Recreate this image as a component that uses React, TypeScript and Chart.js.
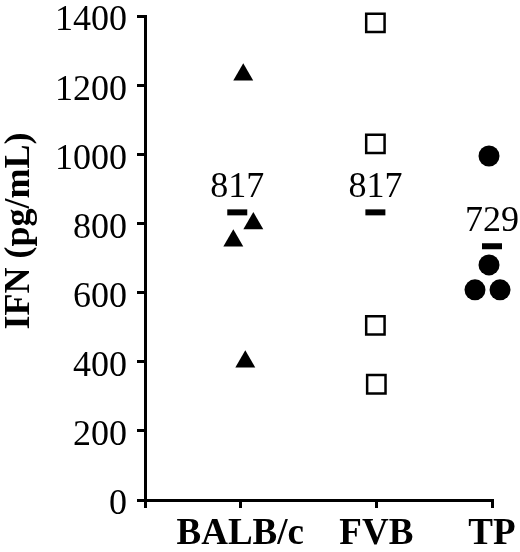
import React, { useEffect, useRef } from "react";
import { Chart, registerables } from "chart.js";

Chart.register(...registerables);

// ---- data ----
const categories = ["BALB/c", "FVB", "TP"];
const categoryPositions = [0.7, 1.7, 2.55];

const balbValues = [1230, 750, 800, 400];
const balbJitter = [0.022, -0.051, 0.096, 0.037];

const fvbValues = [1380, 1030, 505, 335];
const fvbJitter = [-0.007, -0.007, -0.007, 0.0];

const tpValues = [995, 680, 608, 608];
const tpJitter = [-0.022, -0.022, -0.125, 0.059];

const meanBarValues = [832, 832, 734];
const meanBarJitter = [-0.022, -0.007, 0.0];
const meanLabels = ["817", "817", "729"];

const yTicks = [0, 200, 400, 600, 800, 1000, 1200, 1400];
const yTitle = "IFN (pg/mL)";

const SERIF = "'Liberation Serif', 'Times New Roman', Times, serif";

function pts(catIndex: number, values: number[], jitter: number[]) {
  return values.map((v, i) => ({ x: categoryPositions[catIndex] + jitter[i], y: v }));
}

const annotationPlugin = {
  id: "annotations",
  afterDatasetsDraw(chart: any) {
    const { ctx, scales, chartArea } = chart;
    ctx.save();
    ctx.font = `36px ${SERIF}`;
    ctx.fillStyle = "#000";
    ctx.textAlign = "center";
    ctx.textBaseline = "middle";
    meanLabels.forEach((lab, i) => {
      const x = scales.x.getPixelForValue(categoryPositions[i] + meanBarJitter[i]);
      const y = scales.y.getPixelForValue(meanBarValues[i]) - 25;
      ctx.fillText(lab, x, y);
    });
    // y-axis title
    ctx.font = `bold 36px ${SERIF}`;
    ctx.translate(20, (chartArea.top + chartArea.bottom) / 2 - 27);
    ctx.rotate(-Math.PI / 2);
    ctx.fillText(yTitle, 0, 0);
    ctx.restore();
  },
};

export default function App() {
  const ref = useRef<HTMLCanvasElement | null>(null);
  useEffect(() => {
    if (!ref.current) return;
    const chart = new Chart(ref.current, {
      type: "scatter",
      data: {
        datasets: [
          {
            data: pts(0, balbValues, balbJitter),
            pointStyle: "triangle",
            pointRadius: 11.5,
            backgroundColor: "#000",
            borderColor: "#000",
            borderWidth: 0,
            clip: false,
          },
          {
            data: pts(1, fvbValues, fvbJitter),
            pointStyle: "rect",
            pointRadius: 13,
            backgroundColor: "#fff",
            borderColor: "#000",
            borderWidth: 2.5,
            clip: false,
          },
          {
            data: pts(2, tpValues, tpJitter),
            pointStyle: "circle",
            pointRadius: 10.5,
            backgroundColor: "#000",
            borderColor: "#000",
            borderWidth: 0,
            clip: false,
          },
          {
            data: meanBarValues.map((v, i) => ({ x: categoryPositions[i] + meanBarJitter[i], y: v })),
            pointStyle: "line",
            pointRadius: 10,
            borderColor: "#000",
            borderWidth: 6,
            clip: false,
          },
        ],
      },
      options: {
        responsive: false,
        animation: false,
        events: [],
        layout: { padding: { left: 45, right: 28, top: 11, bottom: 0 } },
        plugins: { legend: { display: false }, tooltip: { enabled: false } },
        scales: {
          x: {
            type: "linear",
            min: 0,
            max: categoryPositions[categoryPositions.length - 1],
            afterBuildTicks: (scale: any) => {
              scale.ticks = [0, ...categoryPositions].map((v) => ({ value: v }));
            },
            afterFit: (scale: any) => {
              scale.height = 52;
              scale.paddingLeft = 0;
              scale.paddingRight = 0;
            },
            border: { display: true, color: "#000", width: 3 },
            grid: { drawOnChartArea: false, drawTicks: true, tickLength: 8, color: "#000", lineWidth: 3 },
            ticks: {
              padding: 9,
              color: "#000",
              maxRotation: 0,
              autoSkip: false,
              font: { family: SERIF, size: 37, weight: "bold", lineHeight: 0.95 },
              callback: (v: any) => {
                const idx = categoryPositions.indexOf(Number(v));
                return idx >= 0 ? categories[idx] : "";
              },
            },
          },
          y: {
            min: 0,
            max: 1400,
            afterBuildTicks: (scale: any) => {
              scale.ticks = yTicks.map((v) => ({ value: v }));
            },
            border: { display: true, color: "#000", width: 3 },
            grid: { drawOnChartArea: false, drawTicks: true, tickLength: 8, color: "#000", lineWidth: 3 },
            ticks: {
              padding: 10,
              labelOffset: 5,
              color: "#000",
              font: { family: SERIF, size: 36, lineHeight: 0.01 },
              callback: (v: any) => String(v),
            },
            title: { display: false },
          },
        },
      },
      plugins: [annotationPlugin],
    } as any);
    return () => chart.destroy();
  }, []);
  return (
    <div style={{ position: "absolute", left: 0, top: 0, width: 520, height: 552 }}>
      <canvas ref={ref} width={520} height={552} style={{ display: "block" }} />
    </div>
  );
}
